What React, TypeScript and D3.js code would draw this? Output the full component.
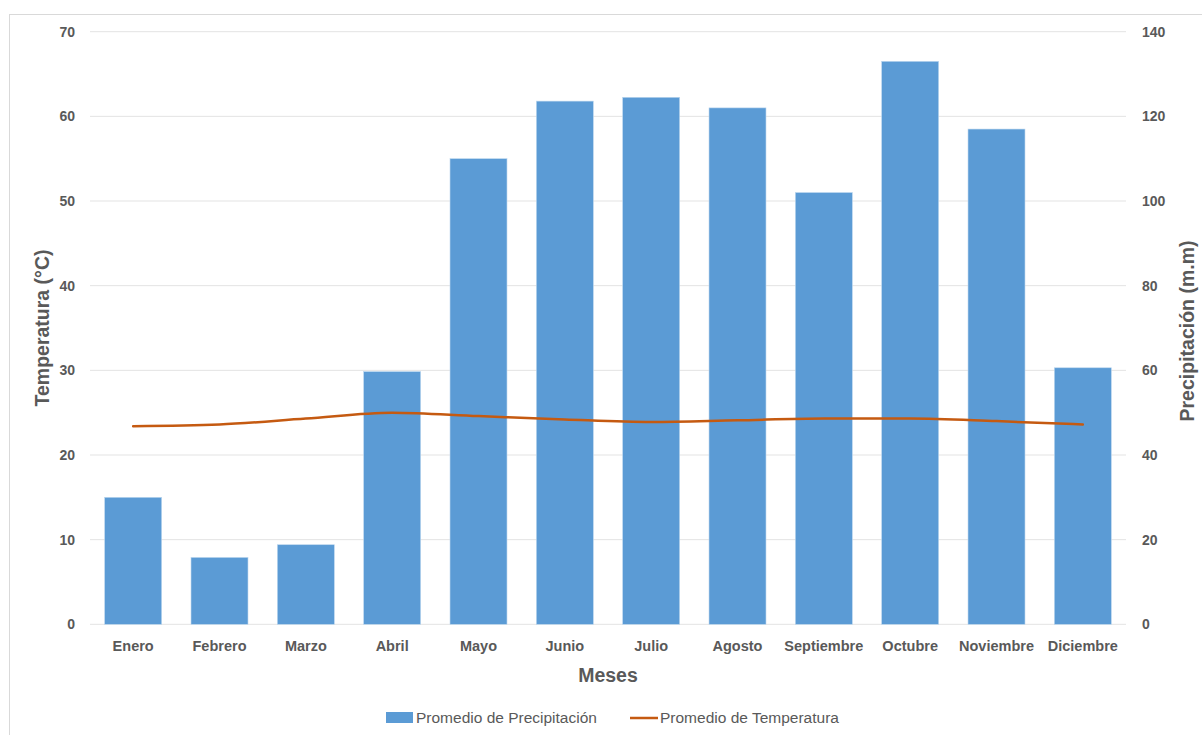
import React from "react";
import * as d3 from "d3";

const months = ["Enero","Febrero","Marzo","Abril","Mayo","Junio","Julio","Agosto","Septiembre","Octubre","Noviembre","Diciembre"];
const precipitation = [30, 15.8, 18.8, 59.7, 110, 123.6, 124.5, 122, 102, 133, 117, 60.6];
const temperature = [23.4, 23.6, 24.3, 25.0, 24.6, 24.2, 23.9, 24.1, 24.3, 24.3, 24.0, 23.6];
const leftTicks = [0, 10, 20, 30, 40, 50, 60, 70];
const rightTicks = [0, 20, 40, 60, 80, 100, 120, 140];

const W = 1202, H = 735;
const M = { left: 90, right: 1126, top: 31.7, bottom: 624.3 };
const FONT = "'Liberation Sans', Arial, sans-serif";
const GREY = "#595959";

export default function App() {
  const x = d3.scaleBand<string>().domain(months).range([M.left, M.right]).paddingInner(0.34).paddingOuter(0.17);
  const yL = d3.scaleLinear().domain([0, 70]).range([M.bottom, M.top]);
  const yR = d3.scaleLinear().domain([0, 140]).range([M.bottom, M.top]);
  const line = d3.line<number>()
    .x((_, i) => (x(months[i]) as number) + x.bandwidth() / 2)
    .y((d) => yL(d))
    .curve(d3.curveMonotoneX);

  return (
    <svg width={W} height={H} style={{ position: "absolute", left: 0, top: 0, background: "#fff" }}>
      <rect x={9.5} y={14.5} width={1200} height={740} fill="#fff" stroke="#d9d9d9" strokeWidth={1} />
      {leftTicks.map((t) => (
        <line key={"g" + t} x1={M.left} x2={M.right} y1={yL(t)} y2={yL(t)} stroke="#e3e3e3" strokeWidth={1} />
      ))}
      {leftTicks.map((t) => (
        <text key={"l" + t} x={75} y={yL(t)} dy="0.35em" textAnchor="end" fontFamily={FONT} fontWeight="bold" fontSize={14} fill={GREY}>{t}</text>
      ))}
      {rightTicks.map((t) => (
        <text key={"r" + t} x={1142} y={yR(t)} dy="0.35em" textAnchor="start" fontFamily={FONT} fontWeight="bold" fontSize={14} fill={GREY}>{t}</text>
      ))}
      {precipitation.map((v, i) => (
        <rect key={"b" + i} x={x(months[i])} y={yR(v)} width={x.bandwidth()} height={M.bottom - yR(v)} fill="#5b9bd5" stroke="#bdd7ee" strokeWidth={0.6} />
      ))}
      <path d={line(temperature) || ""} fill="none" stroke="#c55a11" strokeWidth={2.5} strokeLinejoin="round" strokeLinecap="round" />
      {months.map((m) => (
        <text key={"m" + m} x={(x(m) as number) + x.bandwidth() / 2} y={646} dy="0.35em" textAnchor="middle" fontFamily={FONT} fontWeight="bold" fontSize={14.5} fill={GREY}>{m}</text>
      ))}
      <text x={608} y={675} dy="0.35em" textAnchor="middle" fontFamily={FONT} fontWeight="bold" fontSize={19.5} fill={GREY}>Meses</text>
      <text transform={`translate(42,328) rotate(-90)`} dy="0.35em" textAnchor="middle" fontFamily={FONT} fontWeight="bold" fontSize={19.5} fill={GREY}>Temperatura (°C)</text>
      <text transform={`translate(1187,331) rotate(-90)`} dy="0.35em" textAnchor="middle" fontFamily={FONT} fontWeight="bold" fontSize={19.5} fill={GREY}>Precipitación (m.m)</text>
      <rect x={386} y={712} width={27} height={11} fill="#5b9bd5" />
      <text x={416} y={718} dy="0.35em" fontFamily={FONT} fontSize={15.5} fill={GREY}>Promedio de Precipitación</text>
      <line x1={630} x2={658} y1={718} y2={718} stroke="#c55a11" strokeWidth={2.5} />
      <text x={660} y={718} dy="0.35em" fontFamily={FONT} fontSize={15.5} fill={GREY}>Promedio de Temperatura</text>
    </svg>
  );
}
